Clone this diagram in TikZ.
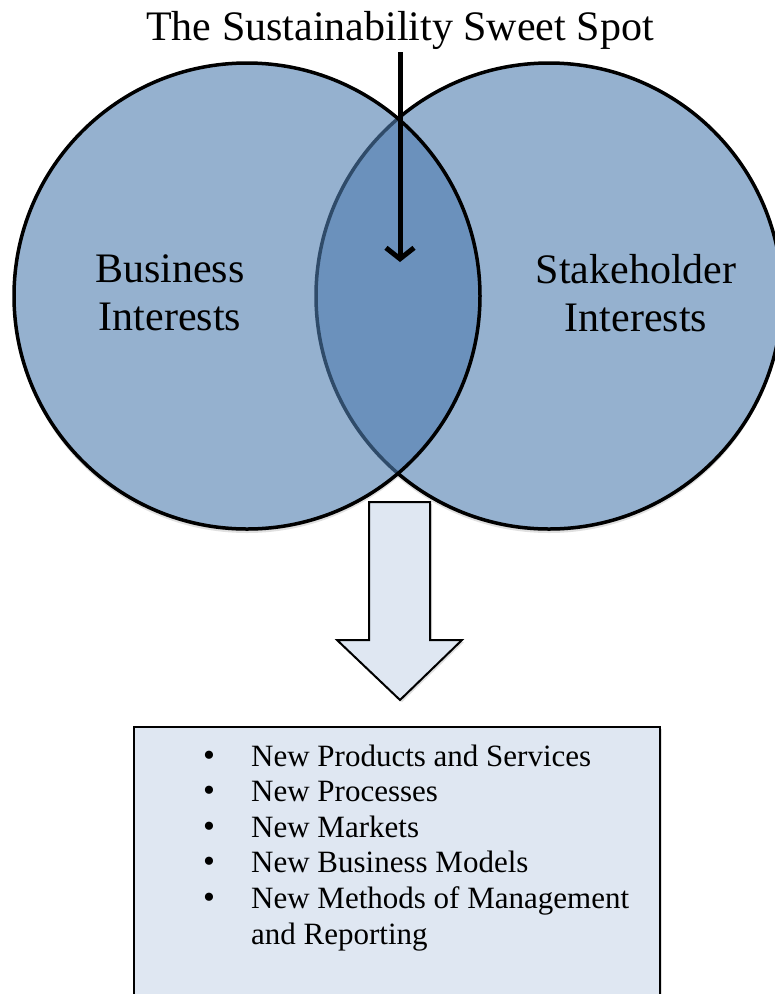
\documentclass[tikz,border=0pt]{standalone}
\usepackage{fontspec}
\setmainfont{Liberation Serif}
\usetikzlibrary{arrows.meta,shadows}
\definecolor{vennblue}{RGB}{79,125,176}
\definecolor{boxblue}{RGB}{223,231,242}
\begin{document}
\begin{tikzpicture}
  [x=1pt,y=-1pt,
   vennbase/.style={circle,minimum size=466pt,inner sep=0pt,fill=white},
   vennshade/.style={circle,minimum size=466pt,inner sep=0pt,fill=black,opacity=0.12},
   venn/.style={circle,minimum size=466pt,inner sep=0pt,draw=black,line width=3.5pt,fill=vennblue,fill opacity=0.6},
   bigtext/.style={inner sep=0pt,align=center,font=\fontsize{42}{48}\selectfont},
   itemtext/.style={inner sep=0pt,anchor=base west,font=\fontsize{31}{36}\selectfont},
   dot/.style={inner sep=0pt,anchor=base,font=\fontsize{34}{36}\selectfont},
   spotarrow/.style={line width=5pt,-{Straight Barb[length=11pt,width=28pt]}},
   shadowed/.style={drop shadow={shadow xshift=2pt,shadow yshift=-2pt,opacity=0.25}}]
  \useasboundingbox (0,0) rectangle (775,994);
  \clip (0,0) rectangle (775,994);

  % circles: shadows, white base, then colour
  \node[vennshade] (bizshade) at (247,300) {};
  \node[vennshade] (stakeshade) at (549,300) {};
  \node[vennshade] (bizshade2) at (247,298) {};
  \node[vennshade] (stakeshade2) at (549,298) {};
  \node[vennbase] (bizbase) at (247,296) {};
  \node[vennbase] (stakebase) at (549,296) {};
  \node[venn] (stake) at (549,296) {};
  \node[venn] (biz) at (247,296) {};

  \node[bigtext] (biztext) at (170,293) {Business\\Interests};
  \node[bigtext] (staketext) at (636,293) {Stakeholder\\Interests};
  \node[bigtext,anchor=base] (title) at (400,40) {The Sustainability Sweet Spot};

  \coordinate (spot) at (400,262);
  \draw[spotarrow] ([yshift=-3pt]title.south) -- (spot);

  % block arrow down to the box
  \draw[line width=2pt,fill=boxblue,shadowed]
    (369,502) -- (430,502) -- (430,640) -- (462,640) -- (400,700)
    -- (337,640) -- (369,640) -- cycle;

  \node[draw,line width=1.8pt,fill=boxblue,shadowed,anchor=north west,
        minimum width=526pt,minimum height=300pt] (outcomes) at (133,726) {};

  \foreach \txt [count=\i] in {New Products and Services,New Processes,New Markets,
                               New Business Models,New Methods of Management}
  {
    \node[dot] (dot\i) at (209,{730.4+35.6*\i}) {•};
    \node[itemtext] (item\i) at (251,{730.4+35.6*\i}) {\txt};
  }
  \node[itemtext] (item6) at (251,944) {and Reporting};
\end{tikzpicture}
\end{document}
